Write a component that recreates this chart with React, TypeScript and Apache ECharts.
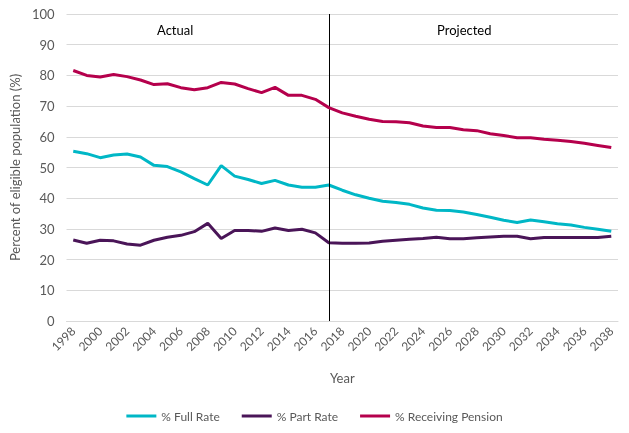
import React, { useEffect, useRef } from "react";
import * as echarts from "echarts";

const years: string[] = [];
for (let y = 1998; y <= 2038; y++) years.push(String(y));

const fullRate = [
  55.3, 54.5, 53.2, 54.1, 54.4, 53.4, 50.7, 50.3, 48.6, 46.4, 44.3, 50.6, 47.2, 46.1, 44.8, 45.8,
  44.3, 43.6, 43.6, 44.3, 42.6, 41.1, 40.0, 39.0, 38.6, 38.0, 36.8, 36.1, 36.0, 35.5, 34.7, 33.8,
  32.8, 32.1, 32.9, 32.3, 31.7, 31.3, 30.5, 29.9, 29.2,
];
const partRate = [
  26.4, 25.3, 26.3, 26.1, 25.1, 24.7, 26.3, 27.3, 27.9, 29.1, 31.8, 26.9, 29.5, 29.5, 29.2, 30.3,
  29.5, 29.9, 28.7, 25.5, 25.3, 25.3, 25.4, 26.0, 26.3, 26.6, 26.9, 27.3, 26.8, 26.8, 27.1, 27.4,
  27.6, 27.6, 26.8, 27.2, 27.2, 27.2, 27.2, 27.2, 27.6,
];
const receivingPension = [
  81.6, 80.0, 79.5, 80.3, 79.6, 78.5, 77.0, 77.3, 76.0, 75.3, 76.0, 77.7, 77.2, 75.7, 74.4, 76.1,
  73.5, 73.5, 72.2, 69.5, 67.8, 66.7, 65.7, 65.0, 64.9, 64.6, 63.5, 63.0, 63.0, 62.3, 62.0, 61.0,
  60.4, 59.7, 59.7, 59.2, 58.9, 58.5, 57.9, 57.2, 56.5,
];
const splitYear = "2017";
const seriesNames = ["% Full Rate", "% Part Rate", "% Receiving Pension"];
const colors = ["#00B7C6", "#4A1558", "#B5004C"];

const FONT = "Lato, 'Open Sans', sans-serif";

export default function App() {
  const ref = useRef<HTMLDivElement>(null);
  useEffect(() => {
    if (!ref.current) return;
    const chart = echarts.init(ref.current, undefined, { renderer: "svg" });
    const datasets = [fullRate, partRate, receivingPension];
    chart.setOption({
      animation: false,
      textStyle: { fontFamily: FONT },
      grid: { left: 65, right: 11, top: 14, bottom: 112, containLabel: false },
      legend: {
        top: 405,
        left: "center",
        icon: "rect",
        itemWidth: 30,
        itemHeight: 3,
        itemGap: 22,
        textStyle: { color: "#595959", fontSize: 12, fontFamily: FONT },
        data: seriesNames,
      },
      xAxis: {
        type: "category",
        data: years,
        boundaryGap: true,
        name: "Year",
        nameLocation: "middle",
        nameGap: 50,
        nameTextStyle: { color: "#595959", fontSize: 13, fontFamily: FONT },
        axisLine: { lineStyle: { color: "#D9D9D9" } },
        axisTick: { show: false },
        axisLabel: {
          interval: 1,
          rotate: 45,
          color: "#595959",
          fontSize: 12,
          margin: 8,
          fontFamily: FONT,
        },
      },
      yAxis: {
        type: "value",
        min: 0,
        max: 100,
        interval: 10,
        name: "Percent of eligible population (%)",
        nameLocation: "middle",
        nameGap: 34,
        nameTextStyle: { color: "#595959", fontSize: 13, fontFamily: FONT },
        axisLine: { show: false },
        axisTick: { show: false },
        axisLabel: { color: "#595959", fontSize: 13, margin: 12, fontFamily: FONT },
        splitLine: { lineStyle: { color: "#D9D9D9" } },
      },
      series: seriesNames.map((name, i) => ({
        name,
        type: "line",
        data: datasets[i],
        symbol: "none",
        lineStyle: { width: 3, color: colors[i] },
        itemStyle: { color: colors[i] },
        z: 3 + i,
        markLine:
          i === 0
            ? {
                silent: true,
                symbol: "none",
                label: { show: false },
                lineStyle: { color: "#000000", width: 1, type: "solid" },
                data: [[{ coord: [splitYear, 0] }, { coord: [splitYear, 100] }]],
              }
            : undefined,
      })),
      graphic: [
        {
          type: "text",
          left: 157,
          top: 23,
          style: { text: "Actual", fill: "#000000", font: `13px ${FONT}` },
        },
        {
          type: "text",
          left: 437,
          top: 23,
          style: { text: "Projected", fill: "#000000", font: `13px ${FONT}` },
        },
      ],
    });
    return () => chart.dispose();
  }, []);
  return (
    <div
      ref={ref}
      style={{ position: "fixed", left: 0, top: 0, width: 629, height: 433 }}
    />
  );
}
